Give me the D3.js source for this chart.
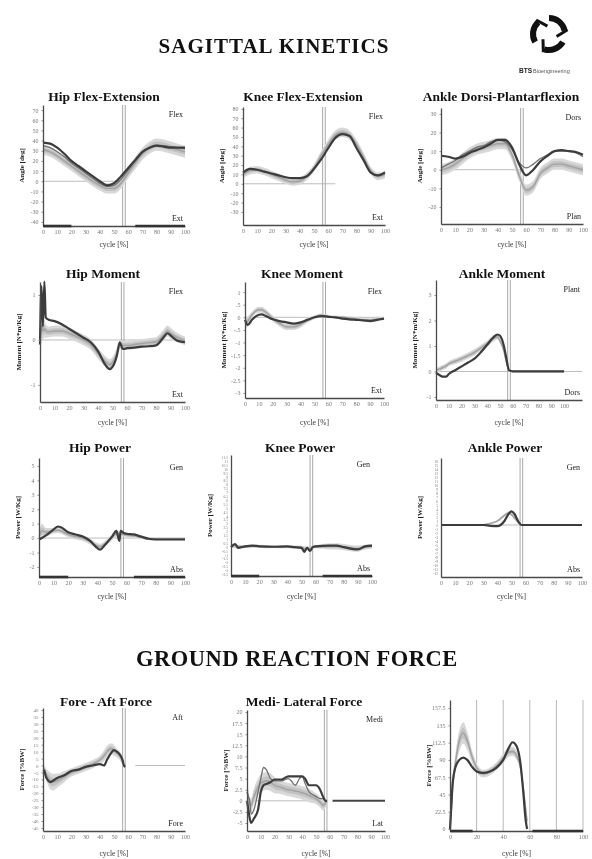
<!DOCTYPE html>
<html>
<head>
<meta charset="utf-8">
<script src="https://cdn.jsdelivr.net/npm/d3@7"></script>
<style>
  body { margin: 0; background: #fff; }
  svg { display: block; font-family: "Liberation Serif", "DejaVu Serif", serif; filter: blur(0.3px); }
</style>
</head>
<body>
<svg id="chart" width="592" height="859"></svg>
<script>
// gait cycle grid (%), shared by the joint angle plots
var cycle = [0,5,10,15,20,25,30,35,40,45,50,55,60,65,70,75,80,85,90,95,100];
var cycleTicks = [0,10,20,30,40,50,60,70,80,90,100];
var grfTicks = [0,20,40,60,80,100];
var toeOff = 57;
var stanceBars = [[0,20],[65,100]];
var grfBars = [[0,17],[62,100]];

// --- joint angles (deg)
var hipAngleTicks = [-40,-30,-20,-10,0,10,20,30,40,50,60,70];
var hipAngleMean  = [31,29,25,20,15,10,5,0,-4,-7,-7,-2,8,18,27,33,36,35,33,31,29];
var hipAngleSd    = [5,5,5,5,5,5,5,5,5,5,5,5,5,6,6,6,6,6,6,6,6];
var hipAngleTrial = [38,37,33,27,20,15,10,5,0,-4,-2,5,13,21,29,33,35,34,33,33,33];
var hipAngleTrial2 = [35,33,29,24,18,13,8,3,-2,-5,-4,2,11,20,28,33,35,35,34,33,32];

var kneeAngleTicks = [-30,-20,-10,0,10,20,30,40,50,60,70,80];
var kneeAngleMean  = [10,14,15,13,10,7,4,2,3,8,17,30,42,52,55,52,42,28,14,8,10];
var kneeAngleSd    = [4,4,4,4,4,4,4,4,4,4,4,5,5,5,5,5,5,5,4,4,4];
var kneeAngleTrial = [12,16,15,13,11,9,7,6,6,8,16,26,38,49,53,51,38,25,12,9,12];

var ankleAngleTicks = [-20,-10,0,10,20,30];
var ankleAngleMean  = [0,1,3,6,9,11,12,13,14,14,8,-3,-11,-9,-2,1,3,3,2,1,0];
var ankleAngleSd    = [3,3,3,3,3,3,3,3,3,3,3,3,3,3,3,3,3,3,3,3,3];
var ankleAngleTrial = [7.5,7,6,7,9,10.5,12,14,16,16,12,3,-3,0,4.5,7.5,10,10.5,10,9.5,8];
var ankleAngleTrial2 = [1,3,5,8,10,12,13,15,16,15,11,4,1,3,6,8,10,10,10,9,7];

// --- moments (N*m/Kg)
var hipMomX     = [0,1,2,3,4,6,10,15,20,25,30,35,40,45,48,50,53,55,56,57,58,60,65,70,75,80,85,88,90,95,100];
var hipMomTicks = [-1,0,1];
var hipMomMean  = [0,0.3,0.2,0.25,0.2,0.18,0.2,0.2,0.15,0.08,0,-0.1,-0.3,-0.48,-0.55,-0.5,-0.3,-0.12,-0.1,-0.12,-0.12,-0.12,-0.1,-0.08,-0.06,-0.04,0.1,0.2,0.15,0.05,-0.02];
var hipMomSd    = [0.25,0.25,0.2,0.2,0.15,0.12,0.12,0.12,0.12,0.12,0.12,0.12,0.12,0.12,0.12,0.12,0.12,0.1,0.1,0.1,0.1,0.1,0.1,0.1,0.1,0.1,0.12,0.12,0.12,0.1,0.1];
var hipMomTrial = [-0.1,1.2,0.3,1.3,0.5,0.45,0.42,0.35,0.25,0.15,0.05,-0.05,-0.25,-0.55,-0.65,-0.6,-0.35,-0.05,-0.12,-0.2,-0.2,-0.18,-0.17,-0.15,-0.14,-0.12,0.05,0.15,0.1,-0.02,-0.05];

var kneeMomX     = [0,2,5,10,12,15,20,25,30,35,40,45,50,55,60,65,70,75,80,85,90,95,100];
var kneeMomTicks = [-3,-2.5,-2,-1.5,-1,-0.5,0,0.5,1];
var kneeMomMean  = [-0.25,-0.15,0.1,0.3,0.3,0.2,-0.05,-0.25,-0.38,-0.38,-0.28,-0.12,0,0.08,0.03,0,0,-0.03,-0.06,-0.1,-0.1,-0.08,-0.05];
var kneeMomSd    = [0.25,0.2,0.12,0.12,0.12,0.12,0.12,0.12,0.12,0.12,0.12,0.1,0.08,0.08,0.06,0.06,0.06,0.06,0.06,0.06,0.06,0.06,0.06];
var kneeMomTrial = [-0.1,-0.3,-0.1,0.1,0.12,0.05,-0.08,-0.15,-0.2,-0.25,-0.2,-0.1,0,0.05,0.02,0,-0.05,-0.08,-0.1,-0.12,-0.15,-0.1,-0.05];

var ankleMomX     = [0,3,5,8,10,15,20,25,30,35,40,45,48,50,53,55,57,60,70,80,90,100];
var ankleMomTicks = [-1,0,1,2,3];
var ankleMomMean  = [0.05,0.1,0.15,0.22,0.3,0.4,0.5,0.62,0.75,0.92,1.1,1.3,1.35,1.2,0.8,0.35,0.05,0,0,0,0,0];
var ankleMomSd    = [0.08,0.1,0.1,0.1,0.1,0.12,0.12,0.12,0.12,0.12,0.12,0.12,0.1,0.1,0.1,0.1,0.05,0.02,0.02,0.02,0.02,0.02];
var ankleMomTrial = [-0.05,-0.15,-0.2,-0.2,-0.1,0.05,0.2,0.35,0.5,0.75,1.05,1.35,1.45,1.4,1,0.5,0.05,0,0,0,0,0];

// --- powers (W/Kg)
var hipPowX     = [0,2,5,10,13,15,20,25,30,35,40,42,45,50,53,55,56,58,60,65,70,75,80,90,100];
var hipPowTicks = [-2,-1,0,1,2,3,4,5];
var hipPowMean  = [0.1,0.5,0.4,0.5,0.55,0.5,0.25,0.1,0,-0.25,-0.55,-0.6,-0.4,0.05,0.3,0.3,0.3,0.25,0.2,0.15,0.05,-0.05,-0.05,-0.05,-0.05];
var hipPowSd    = [0.3,0.5,0.3,0.2,0.2,0.2,0.2,0.2,0.2,0.2,0.2,0.2,0.2,0.2,0.2,0.2,0.2,0.15,0.15,0.12,0.1,0.1,0.1,0.1,0.1];
var hipPowTrial = [-0.1,0,0.2,0.6,0.8,0.75,0.4,0.25,0.1,-0.2,-0.7,-0.8,-0.5,0.1,0.5,-0.2,0.5,0.35,0.3,0.25,0.1,-0.05,-0.1,-0.1,-0.1];

var kneePowX     = [0,3,5,10,15,20,30,40,45,50,52,54,56,58,60,70,75,80,90,95,100];
var kneePowTicks = [-3.5,-3,-2.5,-2,-1.5,-1,-0.5,0,0.5,1,1.5,2,2.5,3,3.5,4,4.5,5,5.5,6,6.5,7,7.5,8,8.5,9,9.5,10,10.5,11,11.5];
var kneePowMean  = [0,0.2,0.1,0.05,0.1,0.1,0.05,0.05,0,0,-0.2,-0.1,-0.2,0,0.05,0.1,0.1,0,-0.2,0,0.1];
var kneePowSd    = [0.2,0.2,0.2,0.2,0.2,0.2,0.2,0.2,0.2,0.2,0.2,0.2,0.2,0.2,0.2,0.4,0.4,0.4,0.4,0.3,0.3];
var kneePowTrial = [0,0.4,-0.1,0.1,0.2,0.1,0.05,0.1,0,-0.1,-0.6,-0.1,-0.5,0,0.1,0.2,0.2,0,-0.3,0.1,0.2];

var anklePowX     = [0,10,20,30,35,40,45,48,50,52,55,57,60,70,80,90,100];
var anklePowTicks = [-12,-11,-10,-9,-8,-7,-6,-5,-4,-3,-2,-1,0,1,2,3,4,5,6,7,8,9,10,11,12,13,14,15,16];
var anklePowMean  = [0,0,0,0.1,0.4,1,2.4,3,2.6,1.8,0.6,0.1,0,0,0,0,0];
var anklePowSd    = [0.1,0.1,0.1,0.1,0.2,0.3,0.4,0.4,0.4,0.3,0.2,0.1,0.1,0.1,0.1,0.1,0.1];
var anklePowTrial = [0,0,0,0,-0.2,-0.3,1,2.8,3.4,2.8,0.8,0,0,0,0,0,0];

// --- ground reaction force (%BW)
var faX     = [0,1,2,3,5,7,10,15,20,25,30,35,40,43,45,48,50,52,54,56,57,58];
var faTicks = [-45,-40,-35,-30,-25,-20,-15,-10,-5,0,5,10,15,20,25,30,35,40];
var faMean  = [-2,-3,-6,-8,-11,-12,-11,-8,-5,-3,-1,1,4,7,10,12,11,9,7,3,0,-1];
var faSd    = [3,3,4,5,6,6,5,4,3,3,3,3,3,4,4,4,4,3,3,3,2,1];
var faTrial = [-3,-4,-8,-10,-12,-11,-9,-7,-4,-3,-1,0,1,0,4,9,11,10,8,4,0,-1];

var mlX      = [0,1,2,3,5,8,10,12,14,17,20,25,30,32,35,38,40,42,45,50,53,55,57,58];
var mlTicks  = [-5,-2.5,0,2.5,5,7.5,10,12.5,15,17.5,20];
var mlMean   = [2,1,-1,-1,1,3,4,4.3,4.5,4.2,3.5,3,2.5,2.4,2.2,2,1.8,1.6,1.2,0.5,-0.3,-1,-0.5,0];
var mlSd     = [1.5,1.5,1.5,1.5,1.8,2,2,2,2,2,1.8,1.5,1.5,1.5,1.5,1.5,1.5,1.5,1.5,1.2,1.2,1.2,1,0.5];
var mlTrial  = [0,-2,-4,-5,-4,-2,2,3.5,3.8,4.2,4.8,4.8,5.5,5.5,5.5,5.5,5.5,5,3.5,3.5,2.5,1,0,0];
var mlTrial2 = [2,1,0,-3,-2,2,5,7.5,7,5,4.5,4.5,5,4.5,3.5,5,5.5,4,2,1,0.5,0.5,0,0];
var swingX    = [62,100];
var swingZero = [0,0];

var vX     = [0,1,2,4,7,10,13,17,20,25,30,35,40,44,47,50,53,55,57,58];
var vTicks = [0,22.5,45,67.5,90,112.5,135,157.5];
var vMean  = [0,25,55,85,115,125,115,92,80,72,75,82,92,100,101,96,80,55,25,10];
var vSd    = [2,5,10,12,14,14,12,8,6,5,5,5,6,6,6,6,6,8,8,6];
var vTrial = [0,30,60,80,90,93,90,80,75,73,75,80,90,105,113,108,85,50,10,0];

var svg = d3.select('#chart');

var shortFmt = function (d) { return d === 0 ? '0' : String(d).replace('0.', '.'); };

var panels = [
  {title:'Hip Flex-Extension', titleX:104, titleY:101, yLabel:'Angle [deg]', top:'Flex', bottom:'Ext',
   box:[43,185,105,226], yDomain:[-44,75], yTicks:hipAngleTicks, x:cycle, mean:hipAngleMean, sd:hipAngleSd,
   trial:hipAngleTrial, trial2:hipAngleTrial2, bars:stanceBars, zero:[0,57], cycleY:247},
  {title:'Knee Flex-Extension', titleX:303, titleY:101, yLabel:'Angle [deg]', top:'Flex', bottom:'Ext',
   box:[243,385,107,225], yDomain:[-44,82], yTicks:kneeAngleTicks, x:cycle, mean:kneeAngleMean, sd:kneeAngleSd,
   trial:kneeAngleTrial, zero:[0,65], cycleY:247},
  {title:'Ankle Dorsi-Plantarflexion', titleX:501, titleY:101, yLabel:'Angle [deg]', top:'Dors', bottom:'Plan',
   box:[441,583,108,224], yDomain:[-29.2,33.2], yTicks:ankleAngleTicks, x:cycle, mean:ankleAngleMean, sd:ankleAngleSd,
   trial:ankleAngleTrial, trial2:ankleAngleTrial2, zero:[0,57], cycleY:247},
  {title:'Hip Moment', titleX:103, titleY:278, yLabel:'Moment [N*m/Kg]', top:'Flex', bottom:'Ext',
   box:[40,185,282,402], yDomain:[-1.38,1.29], yTicks:hipMomTicks, x:hipMomX, mean:hipMomMean, sd:hipMomSd,
   trial:hipMomTrial, zero:[0,100], cycleY:425},
  {title:'Knee Moment', titleX:302, titleY:278, yLabel:'Moment [N*m/Kg]', top:'Flex', bottom:'Ext',
   box:[245,384,282,398], yDomain:[-3.2,1.4], yTicks:kneeMomTicks, fmt:shortFmt, x:kneeMomX, mean:kneeMomMean, sd:kneeMomSd,
   trial:kneeMomTrial, zero:[0,100], cycleY:425},
  {title:'Ankle Moment', titleX:502, titleY:278, yLabel:'Moment [N*m/Kg]', top:'Plant', bottom:'Dors',
   box:[436,582,280,400], xDomain:[0,114], yDomain:[-1.12,3.59], yTicks:ankleMomTicks, x:ankleMomX, mean:ankleMomMean, sd:ankleMomSd,
   trial:ankleMomTrial, zero:[0,114], cycleY:425},
  {title:'Hip Power', titleX:100, titleY:452, yLabel:'Power [W/Kg]', top:'Gen', bottom:'Abs',
   box:[39,185,458,577], yDomain:[-2.7,5.55], yTicks:hipPowTicks, x:hipPowX, mean:hipPowMean, sd:hipPowSd,
   trial:hipPowTrial, bars:stanceBars, zero:[0,100], cycleY:599},
  {title:'Knee Power', titleX:300, titleY:452, yLabel:'Power [W/Kg]', top:'Gen', bottom:'Abs', tiny:true,
   box:[231,372,455,576], yDomain:[-3.7,11.8], yTicks:kneePowTicks, x:kneePowX, mean:kneePowMean, sd:kneePowSd,
   trial:kneePowTrial, bars:stanceBars, zero:[0,100], cycleY:599},
  {title:'Ankle Power', titleX:505, titleY:452, yLabel:'Power [W/Kg]', top:'Gen', bottom:'Abs', tiny:true,
   box:[441,582,458,577], yDomain:[-13,16.75], yTicks:anklePowTicks, x:anklePowX, mean:anklePowMean, sd:anklePowSd,
   trial:anklePowTrial, zero:[0,100], cycleY:599},
  {title:'Fore - Aft Force', titleX:106, titleY:706, yLabel:'Force [%BW]', top:'Aft', bottom:'Fore', small:true,
   box:[43,185,708,831], yDomain:[-47.2,41.4], yTicks:faTicks, x:faX, mean:faMean, sd:faSd,
   trial:faTrial, zero:[65,100], cycleY:856},
  {title:'Medi- Lateral Force', titleX:304, titleY:706, yLabel:'Force [%BW]', top:'Medi', bottom:'Lat',
   box:[247,385,710,831], yDomain:[-6.8,20.45], yTicks:mlTicks, x:mlX, mean:mlMean, sd:mlSd,
   trial:mlTrial, trial2:mlTrial2, swing:true, zero:[0,58], cycleY:856},
  {title:'', yLabel:'Force [%BW]', box:[450,583,700,831], yDomain:[-2.6,168], yTicks:vTicks, xTicks:grfTicks, grid:true,
   x:vX, mean:vMean, sd:vSd, trial:vTrial, bars:grfBars, noToeOff:true, cycleY:856}
];

function drawPanel(p) {
  var b = p.box;
  var g = svg.append('g');
  var x = d3.scaleLinear().domain(p.xDomain || [0, 100]).range([b[0], b[1]]);
  var y = d3.scaleLinear().domain(p.yDomain).range([b[3], b[2]]);
  var idx = p.x.map(function (d, i) { return i; });

  if (p.grid) {
    g.selectAll('.grid').data(p.xTicks.slice(1)).enter().append('line')
      .attr('x1', function (d) { return x(d); }).attr('x2', function (d) { return x(d); })
      .attr('y1', b[2]).attr('y2', b[3])
      .attr('stroke', '#b8b8b8').attr('stroke-width', 1);
  }

  // zero reference
  if (p.zero) {
    g.append('line')
      .attr('x1', x(p.zero[0])).attr('x2', x(p.zero[1]))
      .attr('y1', y(0)).attr('y2', y(0))
      .attr('stroke', '#bdbdbd').attr('stroke-width', 1);
  }

  // toe-off double line
  if (!p.noToeOff) {
    [-1.3, 1.3].forEach(function (o) {
      g.append('line')
        .attr('x1', x(toeOff) + o).attr('x2', x(toeOff) + o)
        .attr('y1', b[2]).attr('y2', b[3])
        .attr('stroke', '#a8a8a8').attr('stroke-width', 1);
    });
  }

  var band = d3.area()
    .x(function (i) { return x(p.x[i]); })
    .y0(function (i) { return y(p.mean[i] - p.sd[i]); })
    .y1(function (i) { return y(p.mean[i] + p.sd[i]); })
    .curve(d3.curveMonotoneX);
  var band2 = d3.area()
    .x(function (i) { return x(p.x[i]); })
    .y0(function (i) { return y(p.mean[i] - p.sd[i] * 0.5); })
    .y1(function (i) { return y(p.mean[i] + p.sd[i] * 0.5); })
    .curve(d3.curveMonotoneX);
  function line(arr) {
    return d3.line()
      .x(function (i) { return x(p.x[i]); })
      .y(function (i) { return y(arr[i]); })
      .curve(d3.curveMonotoneX)(idx);
  }

  g.append('path').attr('d', band(idx)).attr('fill', '#d8d8d8');
  g.append('path').attr('d', band2(idx)).attr('fill', '#c2c2c2');
  g.append('path').attr('d', line(p.mean)).attr('fill', 'none').attr('stroke', '#a2a2a2').attr('stroke-width', 1.4);
  if (p.trial2) {
    g.append('path').attr('d', line(p.trial2)).attr('fill', 'none').attr('stroke', '#707070').attr('stroke-width', 1.3);
  }
  g.append('path').attr('d', line(p.trial)).attr('fill', 'none').attr('stroke', '#3c3c3c').attr('stroke-width', 2.2);

  if (p.swing) {
    g.append('path')
      .attr('d', d3.line().x(function (d, i) { return x(swingX[i]); }).y(function (d) { return y(d); })(swingZero))
      .attr('stroke', '#444').attr('stroke-width', 2);
  }

  // axes
  var yAxis = d3.axisLeft(y).tickValues(p.yTicks).tickSize(p.tiny ? 0 : 1.5).tickSizeOuter(0).tickPadding(3)
    .tickFormat(p.fmt || function (d) { return String(d); });
  var ya = g.append('g').attr('transform', 'translate(' + b[0] + ',0)').call(yAxis);
  var fs = p.tiny ? 3.6 : (p.small ? 5 : 6);
  ya.selectAll('text').attr('font-size', fs).attr('fill', '#7a7a7a').attr('font-family', '"Liberation Serif", serif');

  var xAxis = d3.axisBottom(x).tickValues(p.xTicks || cycleTicks).tickSize(0).tickSizeOuter(0).tickPadding(3.5);
  var xa = g.append('g').attr('transform', 'translate(0,' + b[3] + ')').call(xAxis);
  xa.selectAll('text').attr('font-size', 6.2).attr('fill', '#7a7a7a').attr('font-family', '"Liberation Serif", serif');

  g.selectAll('.domain').attr('stroke', '#4a4a4a').attr('stroke-width', 1.3);
  g.selectAll('.tick line').attr('stroke', '#888');

  if (p.bars) {
    g.selectAll('.bar').data(p.bars).enter().append('line')
      .attr('x1', function (d) { return x(d[0]); }).attr('x2', function (d) { return x(d[1]); })
      .attr('y1', b[3]).attr('y2', b[3])
      .attr('stroke', '#333').attr('stroke-width', 2.6);
  }

  // labels
  if (p.title) {
    g.append('text').attr('x', p.titleX).attr('y', p.titleY)
      .attr('text-anchor', 'middle').attr('font-weight', 'bold').attr('font-size', 13.5)
      .attr('fill', '#111').text(p.title);
  }
  var cy = (b[2] + b[3]) / 2;
  g.append('text')
    .attr('transform', 'translate(' + (b[0] - 19) + ',' + cy + ') rotate(-90)')
    .attr('text-anchor', 'middle').attr('font-weight', 'bold').attr('font-size', 7)
    .attr('fill', '#222').text(p.yLabel);
  g.append('text').attr('x', (b[0] + b[1]) / 2).attr('y', p.cycleY)
    .attr('text-anchor', 'middle').attr('font-size', 7.5).attr('fill', '#333').text('cycle [%]');
  if (p.top) {
    g.append('text').attr('x', b[1] - 2).attr('y', b[2] + 12)
      .attr('text-anchor', 'end').attr('font-size', 8).attr('fill', '#222').text(p.top);
    g.append('text').attr('x', b[1] - 2).attr('y', b[3] - 5)
      .attr('text-anchor', 'end').attr('font-size', 8).attr('fill', '#222').text(p.bottom);
  }
}

panels.forEach(drawPanel);

// section headings
svg.append('text').attr('x', 274).attr('y', 53).attr('text-anchor', 'middle')
  .attr('font-weight', 'bold').attr('font-size', 21).attr('letter-spacing', 1).attr('fill', '#111').text('SAGITTAL KINETICS');
svg.append('text').attr('x', 297).attr('y', 666).attr('text-anchor', 'middle')
  .attr('font-weight', 'bold').attr('font-size', 22.5).attr('letter-spacing', 0.5).attr('fill', '#111').text('GROUND REACTION FORCE');

// logo
var logo = svg.append('g').attr('transform', 'translate(549,34)');
var arc = d3.arc().innerRadius(13).outerRadius(19);
[0, 120, 240].forEach(function (a) {
  var r0 = a * Math.PI / 180;
  logo.append('path').attr('d', arc({startAngle: r0, endAngle: r0 + 1.35})).attr('fill', '#111');
  logo.append('path')
    .attr('d', 'M' + (19 * Math.sin(r0 + 1.35)) + ',' + (-19 * Math.cos(r0 + 1.35)) +
      ' L' + (8 * Math.sin(r0 + 1.9)) + ',' + (-8 * Math.cos(r0 + 1.9)))
    .attr('stroke', '#111').attr('stroke-width', 3);
});
svg.append('text').attr('x', 519).attr('y', 73).attr('font-size', 6.5).attr('font-weight', 'bold')
  .attr('font-family', 'Arial, "Liberation Sans", sans-serif').attr('fill', '#222').text('BTS');
svg.append('text').attr('x', 533).attr('y', 73).attr('font-size', 5.5)
  .attr('font-family', 'Arial, "Liberation Sans", sans-serif').attr('fill', '#555').text('Bioengineering');
</script>
</body>
</html>
